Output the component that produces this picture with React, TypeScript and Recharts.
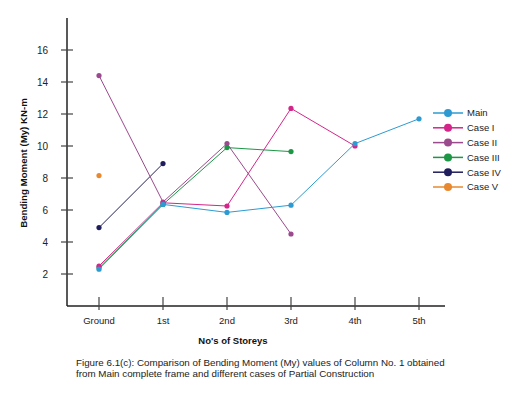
import { LineChart, Line, XAxis, YAxis } from 'recharts'

const storeys = ['Ground', '1st', '2nd', '3rd', '4th', '5th']
const mainValues = [2.3, 6.35, 5.85, 6.3, 10.15, 11.7]
const case1Values = [2.5, 6.45, 6.25, 12.35, 10.0, null]
const case2Values = [14.4, 6.5, 10.15, 4.5, null, null]
const case3Values = [2.4, 6.35, 9.9, 9.65, null, null]
const case4Values = [4.9, 8.9, null, null, null, null]
const case5Values = [8.15, null, null, null, null, null]
const yTicks = [2, 4, 6, 8, 10, 12, 14, 16]

const series = [
  { key: 'case5', name: 'Case V', color: '#e8892f', values: case5Values },
  { key: 'case4', name: 'Case IV', color: '#1f1d5c', values: case4Values },
  { key: 'case2', name: 'Case II', color: '#9b4a8d', values: case2Values },
  { key: 'case3', name: 'Case III', color: '#1d9646', values: case3Values },
  { key: 'case1', name: 'Case I', color: '#d4258a', values: case1Values },
  { key: 'main', name: 'Main', color: '#2d9bd2', values: mainValues },
]

const legendOrder = ['main', 'case1', 'case2', 'case3', 'case4', 'case5']

const data = storeys.map((s, i) => {
  const row: any = { storey: s }
  series.forEach((sr) => {
    row[sr.key] = sr.values[i]
  })
  return row
})

const font = '"Liberation Sans", Arial, sans-serif'

function YTick(props: any) {
  const { x, y, payload } = props
  return (
    <g>
      <line x1={x - 6} x2={x + 6} y1={y} y2={y} stroke="#444" strokeWidth={1.2} />
      <text x={x - 19} y={y} dy="0.35em" textAnchor="end" fontSize={10} fontFamily={font} fill="#222">
        {payload.value}
      </text>
    </g>
  )
}

function XTick(props: any) {
  const { x, y, payload } = props
  return (
    <g>
      <line x1={x} x2={x} y1={y - 9} y2={y + 4} stroke="#444" strokeWidth={1.2} />
      <text x={x} y={y + 18} textAnchor="middle" fontSize={9.5} fontFamily={font} fill="#222">
        {payload.value}
      </text>
    </g>
  )
}

function LegendBox() {
  return (
    <svg width={85} height={95} style={{ position: 'absolute', left: 430, top: 104 }}>
      {legendOrder.map((k, i) => {
        const sr = series.find((s) => s.key === k)!
        const y = 9 + i * 14.8
        return (
          <g key={k}>
            <line x1={3} x2={33} y1={y} y2={y} stroke={sr.color} strokeWidth={1.5} />
            <circle cx={18} cy={y} r={4} fill={sr.color} />
            <text x={37} y={y} dy="0.35em" fontSize={9.5} fontFamily={font} fill="#222">
              {sr.name}
            </text>
          </g>
        )
      })}
    </svg>
  )
}

export default function App() {
  return (
    <div style={{ position: 'absolute', left: 0, top: 0, width: 515, height: 397, background: '#fff', fontFamily: font }}>
      <LineChart width={515} height={397} data={data} margin={{ top: 18, right: 70, bottom: 61, left: 0 }}>
        <XAxis
          dataKey="storey"
          height={30}
          padding={{ left: 32, right: 26 }}
          axisLine={{ stroke: '#222', strokeWidth: 1.5 }}
          tickLine={false}
          tickSize={0}
          tickMargin={0}
          tick={<XTick />}
          interval={0}
        />
        <YAxis
          width={67}
          domain={[0, 18]}
          ticks={yTicks}
          axisLine={{ stroke: '#222', strokeWidth: 1.5 }}
          tickLine={false}
          tickSize={0}
          tickMargin={0}
          tick={<YTick />}
          interval={0}
        />
        {series.map((sr) => (
          <Line
            key={sr.key}
            dataKey={sr.key}
            name={sr.name}
            stroke={sr.color}
            strokeWidth={1}
            dot={{ r: 2.6, fill: sr.color, stroke: sr.color, strokeWidth: 0 }}
            activeDot={false}
            isAnimationActive={false}
          />
        ))}
      </LineChart>
      <LegendBox />
      <div
        style={{
          position: 'absolute',
          left: 23,
          top: 163,
          transform: 'translate(-50%, -50%) rotate(-90deg)',
          whiteSpace: 'nowrap',
          fontSize: 9.7,
          fontWeight: 'bold',
          color: '#111',
        }}
      >
        Bending Moment (My) KN-m
      </div>
      <div
        style={{
          position: 'absolute',
          left: 233,
          top: 340,
          transform: 'translate(-50%, -50%)',
          whiteSpace: 'nowrap',
          fontSize: 9.5,
          fontWeight: 'bold',
          color: '#111',
        }}
      >
        No's of Storeys
      </div>
      <div
        style={{
          position: 'absolute',
          left: 76,
          top: 357,
          fontSize: 9.8,
          lineHeight: '11px',
          color: '#222',
          whiteSpace: 'nowrap',
        }}
      >
        Figure 6.1(c): Comparison of Bending Moment (My) values of Column No. 1 obtained
        <br />
        from Main complete frame and different cases of Partial Construction
      </div>
    </div>
  )
}
